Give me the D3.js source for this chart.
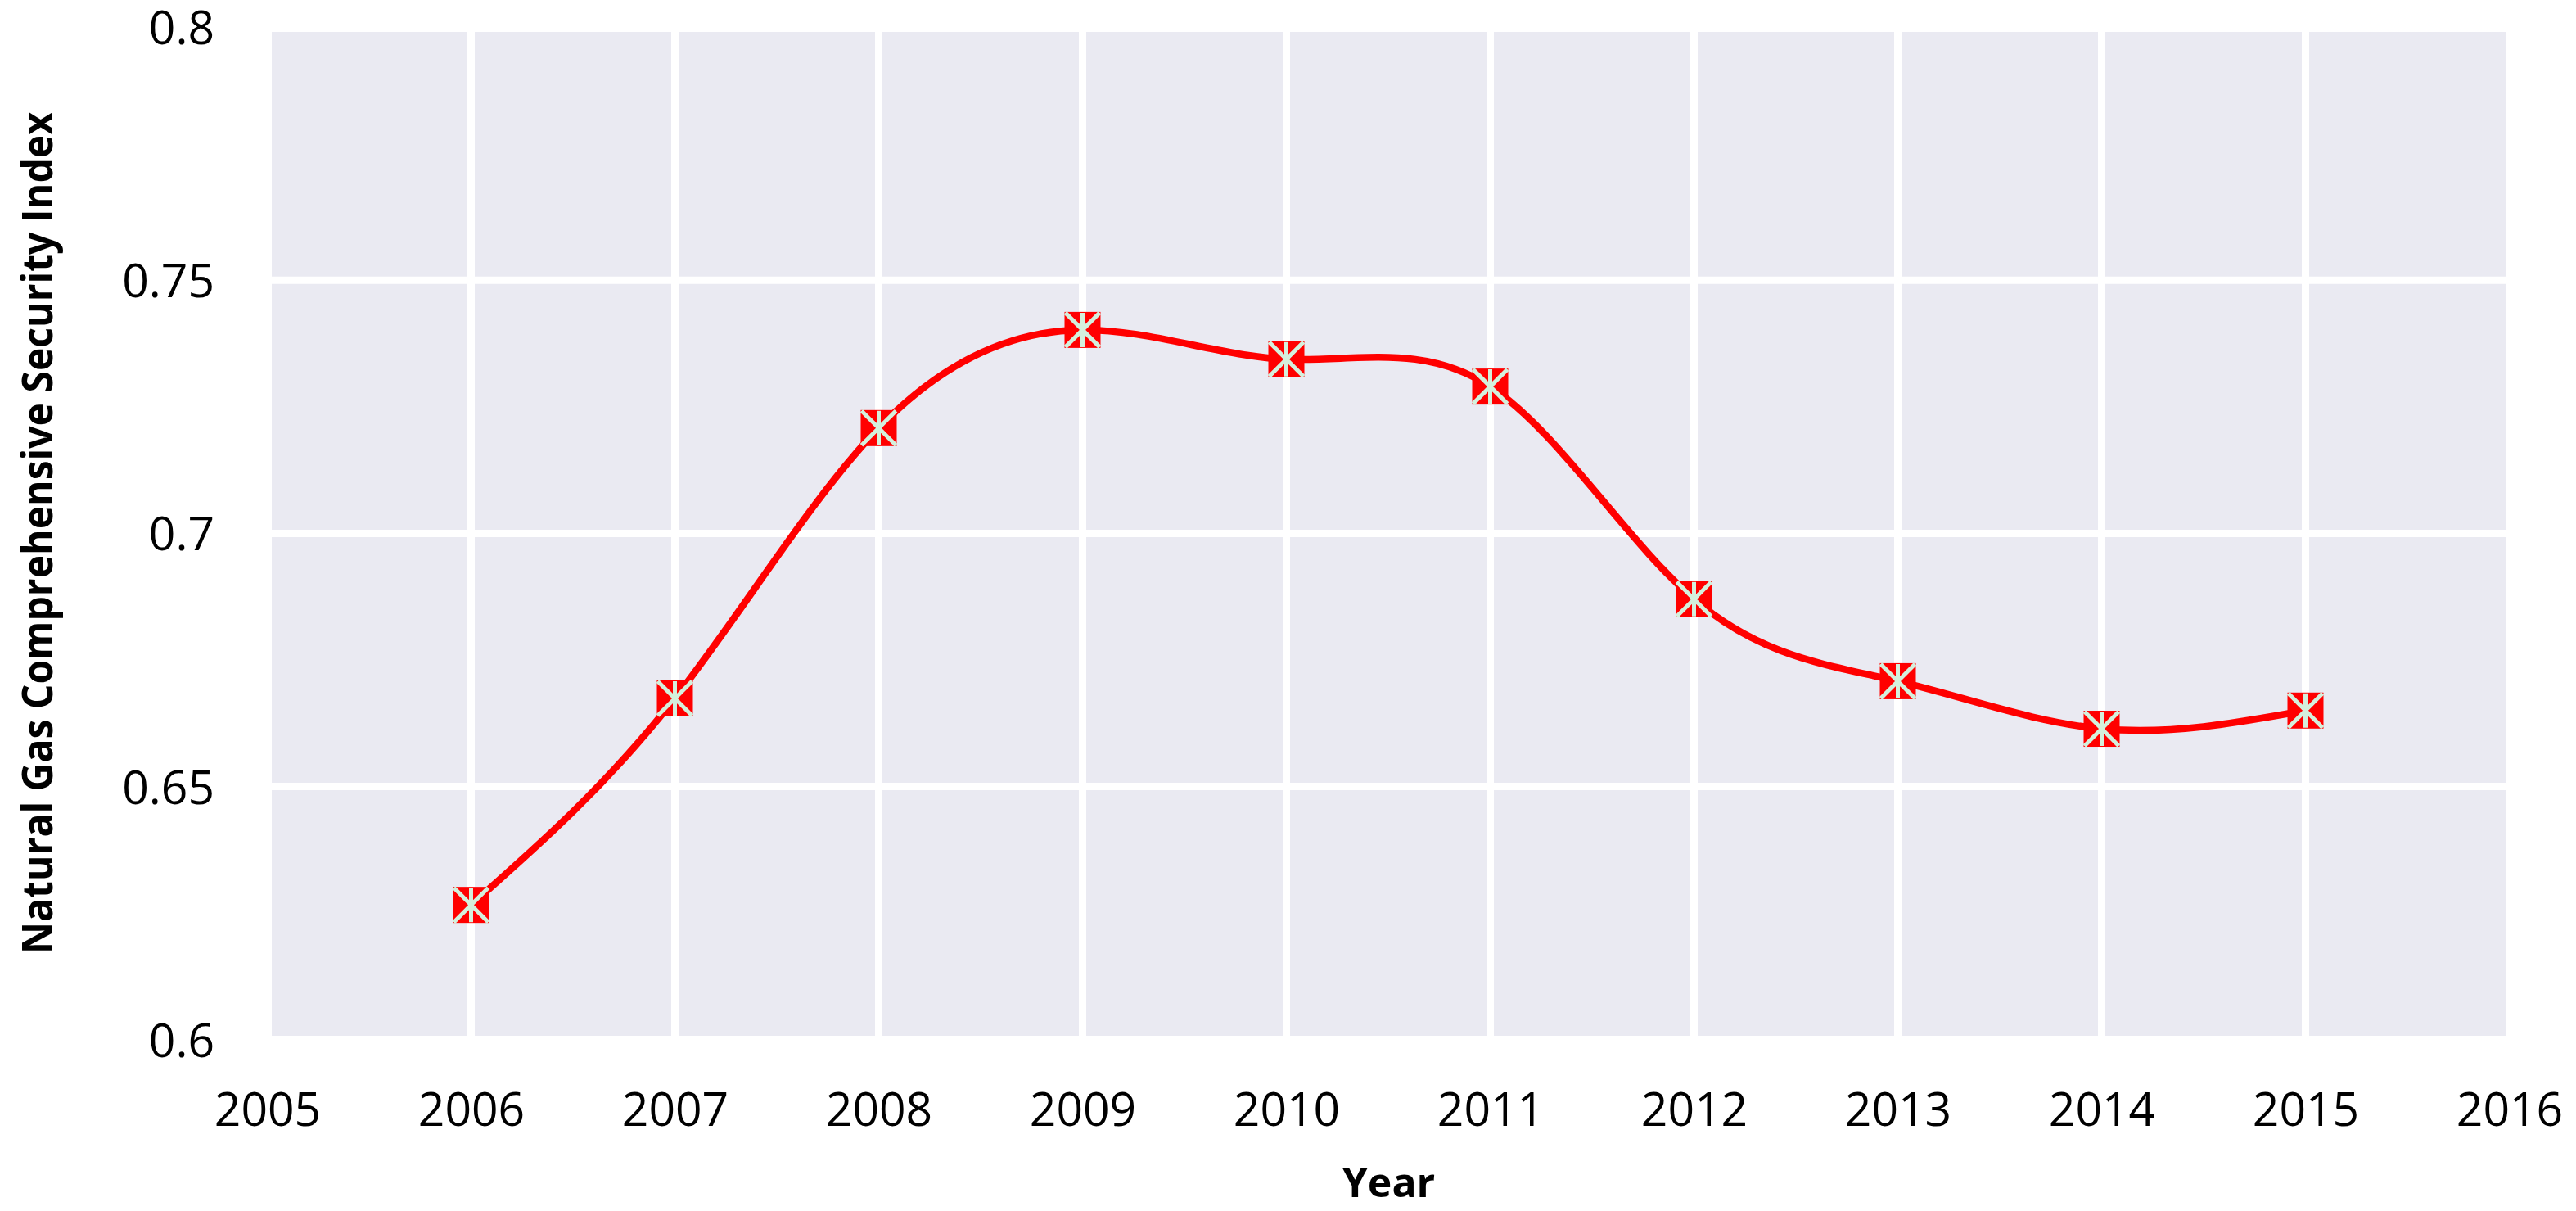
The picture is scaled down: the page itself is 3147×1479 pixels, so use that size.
<!DOCTYPE html>
<html>
<head>
<meta charset="utf-8">
<script src="https://cdn.jsdelivr.net/npm/d3@7"></script>
<style>
  body { margin: 0; background: #fff; }
  svg { display: block; }
  .tick text { font-family: "Open Sans", sans-serif; fill: #000; }
</style>
</head>
<body>
<svg></svg>
<script>
// Data
const years = [2006, 2007, 2008, 2009, 2010, 2011, 2012, 2013, 2014, 2015];
const securityIndex = [0.6266, 0.6674, 0.7208, 0.7402, 0.7344, 0.7290, 0.6870, 0.6708, 0.6614, 0.6650];
const xTicks = [2005, 2006, 2007, 2008, 2009, 2010, 2011, 2012, 2013, 2014, 2015, 2016];
const yTicks = [0.6, 0.65, 0.7, 0.75, 0.8];

const width = 3147, height = 1479;
// plot background box
const plot = {left: 332, right: 3061, top: 39, bottom: 1265};

const svg = d3.select("svg")
              .attr("width", width)
              .attr("height", height);

const xScale = d3.scaleLinear().domain([2005, 2016]).range([326.5, 3065.5]);
const yScale = d3.scaleLinear().domain([0.6, 0.8]).range([1269.6, 33.2]);

// Background
svg.append("rect")
   .attr("x", plot.left)
   .attr("y", plot.top)
   .attr("width", plot.right - plot.left)
   .attr("height", plot.bottom - plot.top)
   .attr("fill", "#eaeaf2");

svg.append("clipPath")
   .attr("id", "plot-clip")
   .append("rect")
   .attr("x", plot.left)
   .attr("y", plot.top)
   .attr("width", plot.right - plot.left)
   .attr("height", plot.bottom - plot.top);

const grid = svg.append("g").attr("clip-path", "url(#plot-clip)");

// White grid lines
grid.selectAll(".hgrid")
    .data(yTicks)
    .enter()
    .append("line")
    .attr("x1", plot.left)
    .attr("x2", plot.right)
    .attr("y1", d => yScale(d))
    .attr("y2", d => yScale(d))
    .attr("stroke", "#fff")
    .attr("stroke-width", 9);

grid.selectAll(".vgrid")
    .data(xTicks)
    .enter()
    .append("line")
    .attr("x1", d => xScale(d))
    .attr("x2", d => xScale(d))
    .attr("y1", plot.top)
    .attr("y2", plot.bottom)
    .attr("stroke", "#fff")
    .attr("stroke-width", 9);

// X axis
const xAxis = d3.axisBottom(xScale)
                .tickValues(xTicks)
                .tickFormat(d3.format("d"))
                .tickSize(0);
const gx = svg.append("g")
              .attr("transform", `translate(0, ${yScale(0.6)})`)
              .call(xAxis);
gx.select(".domain").remove();
gx.selectAll("text")
  .attr("y", 105)
  .attr("dy", 0)
  .style("font-size", "57px");

// Y axis
const yAxis = d3.axisLeft(yScale)
                .tickValues(yTicks)
                .tickFormat(d => String(d))
                .tickSize(0)
                .tickPadding(0);
const gy = svg.append("g")
              .attr("transform", "translate(262, 0)")
              .call(yAxis);
gy.select(".domain").remove();
gy.selectAll("text")
  .attr("dy", "0.36em")
  .style("font-size", "57px");

// Axis titles
svg.append("text")
   .attr("x", (plot.left + plot.right) / 2)
   .attr("y", 1462)
   .attr("text-anchor", "middle")
   .style("font-family", "'Open Sans', sans-serif")
   .style("font-weight", "bold")
   .style("font-size", "50px")
   .text("Year");

svg.append("text")
   .attr("transform", "translate(64, 651) rotate(-90)")
   .attr("text-anchor", "middle")
   .attr("textLength", 1028)
   .attr("lengthAdjust", "spacingAndGlyphs")
   .style("font-family", "'Open Sans', sans-serif")
   .style("font-weight", "bold")
   .style("font-size", "52px")
   .text("Natural Gas Comprehensive Security Index");

// Smoothed line
const points = years.map((y, i) => ({year: y, value: securityIndex[i]}));
const line = d3.line()
               .x(d => xScale(d.year))
               .y(d => yScale(d.value))
               .curve(d3.curveNatural);

svg.append("path")
   .datum(points)
   .attr("d", line)
   .attr("fill", "none")
   .attr("stroke", "#ff0000")
   .attr("stroke-width", 8.5);

// Markers: red square with a pale asterisk
const s = 22;
const markers = svg.selectAll(".marker")
                   .data(points)
                   .enter()
                   .append("g")
                   .attr("class", "marker")
                   .attr("transform", d => `translate(${xScale(d.year)},${yScale(d.value)})`);

markers.append("rect")
       .attr("x", -s)
       .attr("y", -s)
       .attr("width", 2 * s)
       .attr("height", 2 * s)
       .attr("fill", "#ff0000");

markers.append("path")
       .attr("d", `M0,${-s + 1}V${s - 1}M${-s + 1},${-s + 1}L${s - 1},${s - 1}M${s - 1},${-s + 1}L${-s + 1},${s - 1}`)
       .attr("stroke", "#d4f0dc")
       .attr("stroke-width", 5)
       .attr("fill", "none");
</script>
</body>
</html>
